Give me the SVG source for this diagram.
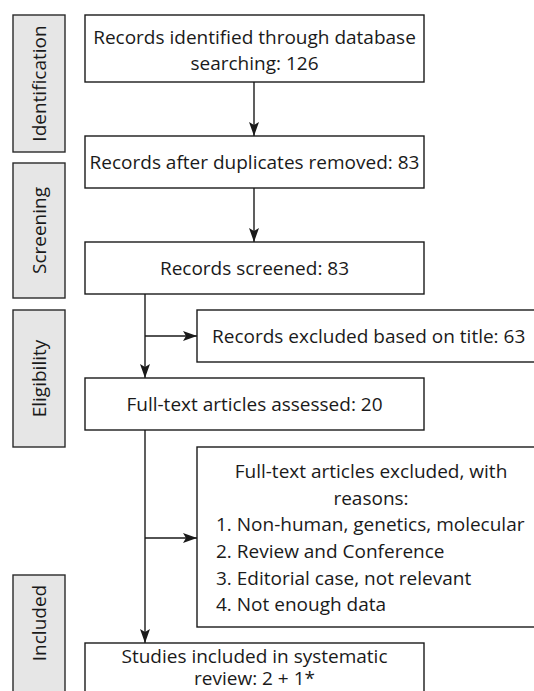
<svg xmlns="http://www.w3.org/2000/svg" width="534" height="691" viewBox="0 0 534 691">
<style>
.box{fill:#fff;stroke:#1a1a1a;stroke-width:1.4}
.stage{fill:#e6e6e6;stroke:#2a2a2a;stroke-width:1.4}
.t{font-family:"Open Sans","Noto Sans",sans-serif;font-size:19px;fill:#1a1a1a}
.c{text-anchor:middle}
.ln{fill:none;stroke:#1a1a1a;stroke-width:1.4}
</style>
<defs>
<marker id="ah" viewBox="0 0 14 10" refX="14" refY="5" markerWidth="14" markerHeight="10" orient="auto" markerUnits="userSpaceOnUse">
<path d="M0,0 L14,5 L0,10 L3,5 Z" fill="#1a1a1a"/>
</marker>
</defs>
<rect width="534" height="691" fill="#fff"/>
<g id="stage-identification"><rect class="stage" x="13" y="15" width="52" height="137"/><text class="t c" transform="translate(46,83.5) rotate(-90)">Identification</text></g>
<g id="stage-screening"><rect class="stage" x="13" y="163" width="52" height="135"/><text class="t c" transform="translate(46,230.5) rotate(-90)">Screening</text></g>
<g id="stage-eligibility"><rect class="stage" x="13" y="310" width="52" height="137"/><text class="t c" transform="translate(46,378.5) rotate(-90)">Eligibility</text></g>
<g id="stage-included"><rect class="stage" x="13" y="575" width="52" height="130"/><text class="t c" transform="translate(46,623) rotate(-90)">Included</text></g>

<g id="connectors">
<line class="ln" x1="254" y1="82" x2="254" y2="136" marker-end="url(#ah)"/>
<line class="ln" x1="254" y1="188" x2="254" y2="242" marker-end="url(#ah)"/>
<line class="ln" x1="145" y1="294" x2="145" y2="378" marker-end="url(#ah)"/>
<line class="ln" x1="145" y1="336" x2="197" y2="336" marker-end="url(#ah)"/>
<line class="ln" x1="145" y1="430" x2="145" y2="643" marker-end="url(#ah)"/>
<line class="ln" x1="145" y1="538" x2="197" y2="538" marker-end="url(#ah)"/>
</g>

<g id="n1"><rect class="box" x="85" y="15" width="339" height="67"/><text class="t c" x="254.5" y="44">Records identified through database</text><text class="t c" x="254.5" y="70">searching: 126</text></g>
<g id="n2"><rect class="box" x="85" y="136" width="339" height="52"/><text class="t c" x="254.5" y="169">Records after duplicates removed: 83</text></g>
<g id="n3"><rect class="box" x="85" y="242" width="339" height="52"/><text class="t c" x="254.5" y="275">Records screened: 83</text></g>
<g id="n4"><rect class="box" x="197" y="310" width="345" height="52"/><text class="t" x="212" y="343">Records excluded based on title: 63</text></g>
<g id="n5"><rect class="box" x="85" y="378" width="339" height="52"/><text class="t c" x="254.5" y="411">Full-text articles assessed: 20</text></g>
<g id="n6"><rect class="box" x="197" y="447" width="345" height="180"/>
<text class="t c" x="371" y="478">Full-text articles excluded, with</text>
<text class="t c" x="371" y="505">reasons:</text>
<text class="t" x="216" y="531">1. Non-human, genetics, molecular</text>
<text class="t" x="216" y="558">2. Review and Conference</text>
<text class="t" x="216" y="585">3. Editorial case, not relevant</text>
<text class="t" x="216" y="611">4. Not enough data</text>
</g>
<g id="n7"><rect class="box" x="85" y="643" width="339" height="60"/><text class="t c" x="254.5" y="663">Studies included in systematic</text><text class="t c" x="254.5" y="685">review: 2 + 1*</text></g>
</svg>
